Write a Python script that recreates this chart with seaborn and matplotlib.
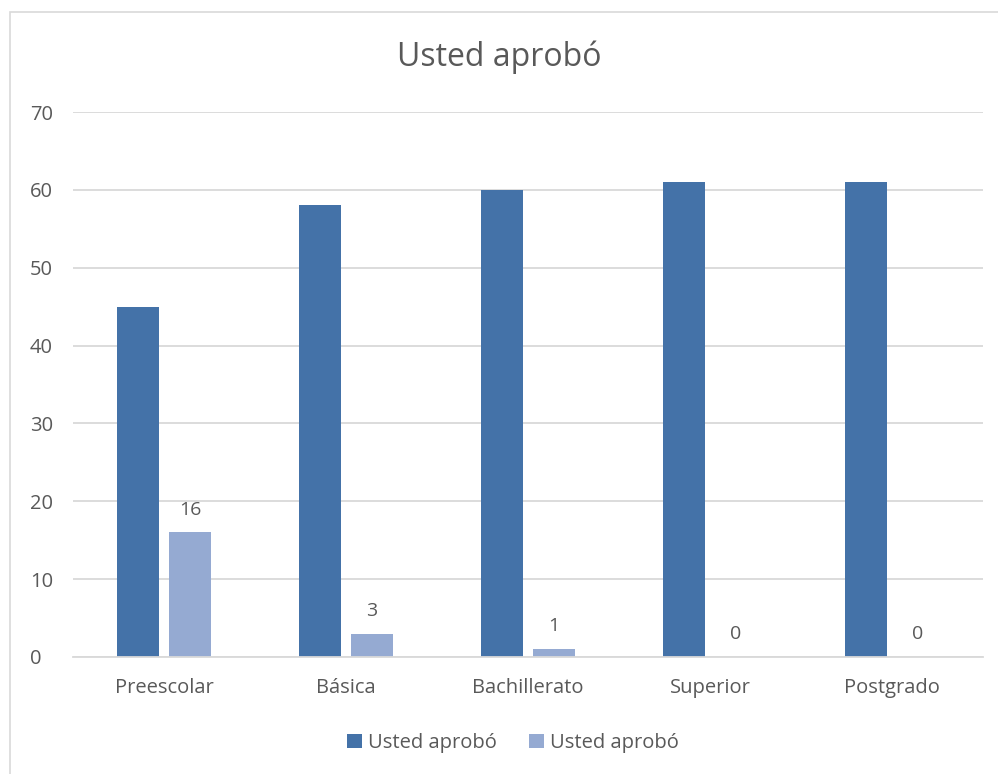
import matplotlib
matplotlib.use("Agg")
import matplotlib.pyplot as plt
import seaborn as sns
import pandas as pd
from matplotlib.patches import Rectangle, Patch

categories = ["Preescolar", "Básica", "Bachillerato", "Superior", "Postgrado"]
serie_a = [45, 58, 60, 61, 61]
serie_b = [16, 3, 1, 0, 0]
series_names = ["Usted aprobó (1)", "Usted aprobó (2)"]
legend_labels = ["Usted aprobó", "Usted aprobó"]
title = "Usted aprobó"
y_ticks = [0, 10, 20, 30, 40, 50, 60, 70]

colors = ["#4472A8", "#95AAD2"]
text_color = "#595959"

sns.set_theme(style="white")
plt.rcParams["font.family"] = ["Open Sans", "DejaVu Sans"]

df = pd.DataFrame({
    "categoria": categories * 2,
    "valor": serie_a + serie_b,
    "serie": [series_names[0]] * len(categories) + [series_names[1]] * len(categories),
})

fig = plt.figure(figsize=(9.98, 7.74), dpi=100)
ax = fig.add_axes([73 / 998, 1 - 657 / 774, 910 / 998, 545 / 774])

sns.barplot(data=df, x="categoria", y="valor", hue="serie", order=categories,
            hue_order=series_names, palette=colors, width=0.57, gap=0.2,
            saturation=1, ax=ax, legend=False, errorbar=None, linewidth=0)

# value labels on the second series
containers = ax.containers
ax.bar_label(containers[1], labels=[str(v) for v in serie_b], padding=10,
             fontsize=14, color=text_color)

ax.set_ylim(0, 70)
ax.set_xlim(-0.5, len(categories) - 0.5)
ax.set_yticks(y_ticks)
ax.yaxis.grid(True, color="#D9D9D9", linewidth=1.3)
ax.set_axisbelow(True)
for s in ax.spines.values():
    s.set_visible(False)
ax.spines["bottom"].set_visible(True)
ax.spines["bottom"].set_color("#D9D9D9")
ax.spines["bottom"].set_linewidth(1.3)
ax.set_xlabel("")
ax.set_ylabel("")
ax.tick_params(axis="both", length=0, labelsize=14.5, colors=text_color)
ax.tick_params(axis="y", pad=31)
ax.tick_params(axis="x", pad=15)
for lbl in ax.get_yticklabels():
    lbl.set_horizontalalignment("left")

fig.text(0.5, 1 - 57 / 774, title, ha="center", va="center", fontsize=23,
         color=text_color)

handles = [Patch(facecolor=c, edgecolor="none") for c in colors]
fig.legend(handles, legend_labels, loc="center", bbox_to_anchor=(513 / 998, 1 - 743 / 774),
           ncol=2, frameon=False, fontsize=14.5, labelcolor=text_color,
           handlelength=0.75, handleheight=0.75, handletextpad=0.3, columnspacing=1.6)

fig.patches.append(Rectangle((10 / 998, -0.01), 1.0, 1 - 12 / 774 + 0.01,
                             transform=fig.transFigure, fill=False,
                             edgecolor="#D9D9D9", linewidth=1.2))

fig.savefig("out.png", dpi=100)
